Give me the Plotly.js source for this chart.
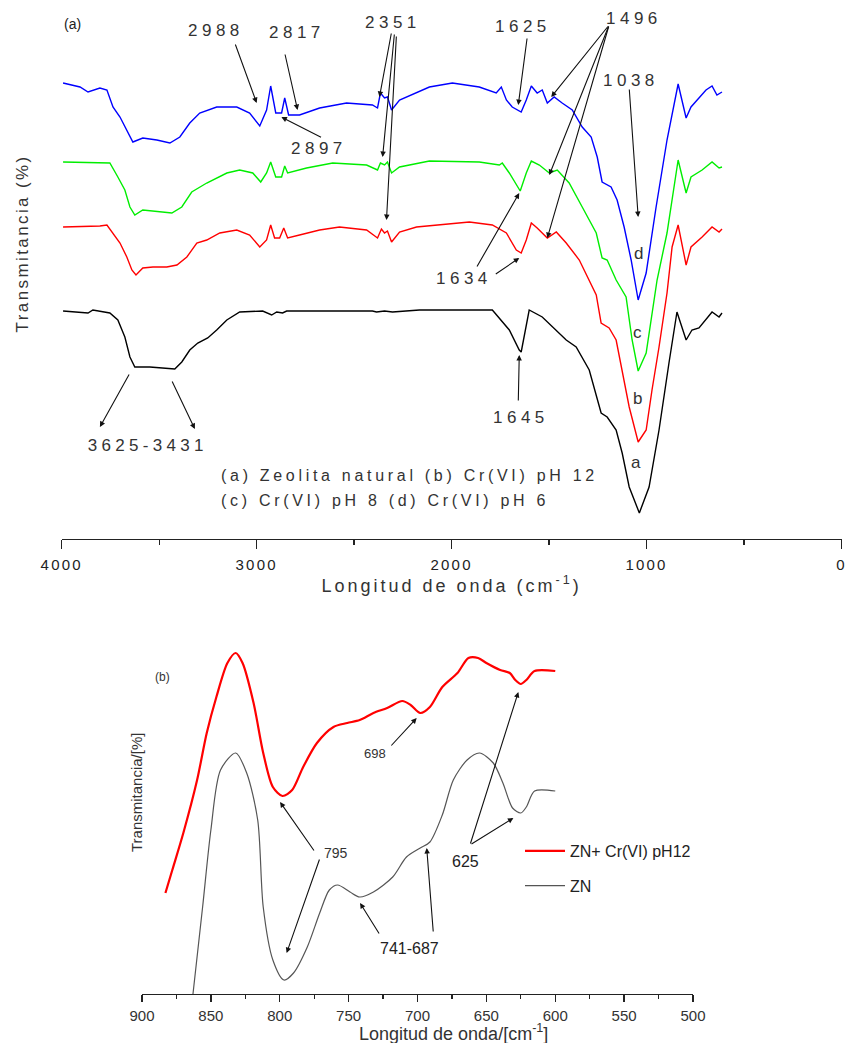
<!DOCTYPE html>
<html>
<head>
<meta charset="utf-8">
<script src="https://cdn.plot.ly/plotly-3.0.1.min.js"></script>
<style>
  html, body { margin: 0; padding: 0; background: #fff; }
  #chart { width: 846px; height: 1043px; }
  .subplot.xy .xtick text { letter-spacing: 2.2px; }
  .g-xtitle text { letter-spacing: 3px; }
</style>
</head>
<body>
<div id="chart"></div>
<script>
// ---------- Panel (a): FTIR spectra, wavenumber (cm-1) vs transmittance (offset, arbitrary units) ----------
const wnA = [3993,3891,3865,3840,3804,3753,3712,3676,3650,3625,3548,3461,3420,3384,3343,3302,3251,3205,3153,3087,2969,2923,2897,2867,2846,2406,2385,2344,2303,2165,1791,1704,1653,1643,1602,1535,1412,1361,1294,1233,1202,1156,1125,1089,1037,987,936,885,844,797,767,731,695,664,628,613];
const tA  = [228,227,226,229,228,226,219,202,182,172,172,171,170,177,189,196,201,209,219,227,228,224,227,226,228,228,227,228,227,229,229,209,189,187,229,222,199,192,169,126,122,109,86,52,26,52,109,176,227,199,209,211,219,227,222,226];

const wnB = [3993,3804,3768,3737,3701,3666,3640,3619,3584,3532,3461,3409,3358,3307,3256,3189,3102,3036,2984,2949,2928,2908,2882,2861,2841,2780,2677,2575,2436,2380,2360,2344,2329,2308,2267,2180,1909,1791,1719,1668,1643,1617,1591,1561,1509,1463,1412,1345,1294,1258,1233,1192,1156,1125,1089,1043,1002,972,936,895,869,838,797,772,715,664,628,613];
const tB  = [312,313,314,306,296,282,269,264,271,272,272,274,282,296,299,306,309,304,292,299,314,301,301,311,301,304,309,312,309,301,310,306,308,297,307,312,317,314,306,289,286,299,316,311,301,307,296,279,259,244,216,211,199,169,132,97,109,149,192,246,292,314,274,292,302,312,307,310];

const wnC = [3993,3840,3753,3712,3676,3650,3625,3584,3497,3435,3384,3333,3256,3153,3087,3020,2979,2949,2928,2902,2872,2856,2841,2744,2610,2436,2380,2365,2344,2329,2308,2267,2114,1858,1755,1740,1704,1648,1617,1591,1550,1499,1458,1397,1330,1258,1228,1202,1156,1105,1074,1043,1002,972,946,895,838,797,772,715,664,628,613];
const tC  = [377,376,376,362,349,332,324,329,327,326,332,347,356,366,369,366,357,366,377,362,362,373,366,371,376,374,369,376,374,377,366,372,378,377,374,376,366,348,366,378,374,366,369,356,332,306,281,279,259,242,199,168,186,226,259,306,379,346,362,369,377,371,372];

const wnD = [3993,3906,3865,3804,3768,3737,3701,3666,3635,3584,3512,3445,3394,3343,3292,3205,3102,3036,2984,2949,2928,2902,2872,2856,2836,2780,2677,2539,2406,2380,2365,2344,2329,2308,2267,2114,1996,1858,1771,1745,1719,1689,1643,1617,1591,1561,1535,1509,1474,1433,1381,1330,1284,1253,1228,1182,1151,1115,1079,1043,1002,951,895,838,797,772,731,695,664,639,613];
const tD  = [456,452,447,451,449,432,422,409,397,401,399,396,402,416,426,432,432,426,413,429,453,426,426,441,424,424,431,436,434,431,446,441,442,429,439,452,456,452,446,452,439,432,427,439,453,446,449,436,442,436,429,412,402,382,357,352,339,312,279,239,266,332,399,455,421,432,441,449,453,444,447];

const topTickVals  = [4000, 3000, 2000, 1000, 0];
const topTickText  = ['4000', '3000', '2000', '1000', '0'];
const topMinorVals = [3500, 2500, 1500, 500];

// ---------- Panel (b): 900-500 cm-1 region ----------
const wnZNCr = [883,878,870,860,853,846,838,832,827,819,812,805,798,791,783,773,761,751,742,732,722,711,705,698,691,682,671,663,656,650,640,633,629,625,621,615,600];
const tZNCr  = [101,124,161,214,261,297,331,341,331,291,241,207,198,204,227,251,267,271,274,281,286,293,289,281,287,307,321,336,336,331,324,321,314,310,314,323,323];

const wnZN = [863,856,850,843,832,824,816,812,805,797,790,780,771,764,758,749,742,732,718,708,698,691,682,674,664,655,645,638,631,625,621,615,600];
const tZN  = [0,87,164,224,241,221,174,87,34,14,21,47,81,104,109,102,97,102,117,137,146,152,179,214,234,241,231,211,186,181,187,203,203];

const botTickVals  = [900, 850, 800, 750, 700, 650, 600, 550, 500];
const botTickText  = ['900', '850', '800', '750', '700', '650', '600', '550', '500'];
const botMinorVals = [875, 825, 775, 725, 675, 625, 575, 525];

const seriesNames = ['ZN+ Cr(VI) pH12', 'ZN'];

// ---------- traces ----------
const FONT = 'Arial, "Liberation Sans", sans-serif';
const traces = [
  {x: wnA, y: tA, xaxis: 'x', yaxis: 'y', mode: 'lines', line: {color: '#000000', width: 1.4}, showlegend: false, name: 'a'},
  {x: wnB, y: tB, xaxis: 'x', yaxis: 'y', mode: 'lines', line: {color: '#ff0000', width: 1.4}, showlegend: false, name: 'b'},
  {x: wnC, y: tC, xaxis: 'x', yaxis: 'y', mode: 'lines', line: {color: '#00ee00', width: 1.4}, showlegend: false, name: 'c'},
  {x: wnD, y: tD, xaxis: 'x', yaxis: 'y', mode: 'lines', line: {color: '#0000ff', width: 1.4}, showlegend: false, name: 'd'},
  {x: wnZNCr, y: tZNCr, xaxis: 'x2', yaxis: 'y2', mode: 'lines', line: {color: '#ff0000', width: 2.2, shape: 'spline', smoothing: 0.8}, name: seriesNames[0], legendgroup: 'g1'},
  {x: wnZN, y: tZN, xaxis: 'x2', yaxis: 'y2', mode: 'lines', line: {color: '#555555', width: 1.2, shape: 'spline', smoothing: 0.8}, name: seriesNames[1], legendgroup: 'g2'}
];

// ---------- annotations ----------
const annotations = [];
const spacing = [];
function label(text, x, y, size, ls, xr, yr, opts) {
  annotations.push(Object.assign({
    text: text, x: x, y: y, xref: xr, yref: yr, showarrow: false,
    font: {family: FONT, size: size, color: '#333333'}, xanchor: 'center', yanchor: 'middle'
  }, opts || {}));
  spacing.push(ls);
}
function arrow(tx, ty, sx, sy, xr, yr) {
  annotations.push({
    text: '', x: tx, y: ty, xref: xr, yref: yr, ax: sx, ay: sy, axref: xr, ayref: yr,
    showarrow: true, arrowhead: 2, arrowsize: 1, arrowwidth: 1.1, arrowcolor: '#111111', standoff: 0, startstandoff: 0
  });
  spacing.push(0);
}

// panel (a) labels
label('(a)', 4000, 515, 14, 0, 'x', 'y', {xanchor: 'left', font: {family: FONT, size: 14, color: '#222'}});
label('2988', 3210, 509, 17, 4.5, 'x', 'y');
label('2817', 2795, 507, 17, 4.5, 'x', 'y');
label('2897', 2682, 391, 17, 4.5, 'x', 'y');
label('2351', 2303, 517, 17, 4.5, 'x', 'y');
label('1625', 1632, 513, 17, 4.5, 'x', 'y');
label('1496', 1064, 521, 17, 4.5, 'x', 'y');
label('1038', 1079, 459, 17, 4.5, 'x', 'y');
label('1634', 1934, 261, 17, 4.5, 'x', 'y');
label('1645', 1643, 122, 17, 4.5, 'x', 'y');
label('3625-3431', 3558, 94, 17, 4.3, 'x', 'y');
label('d', 1043, 286, 17, 0, 'x', 'y');
label('c', 1048, 207, 17, 0, 'x', 'y');
label('b', 1048, 141, 17, 0, 'x', 'y');
label('a', 1053, 77, 17, 0, 'x', 'y');
label('(a) Zeolita natural (b) Cr(VI) pH 12', 3194, 64, 16, 3.7, 'x', 'y', {xanchor: 'left', align: 'left'});
label('(c) Cr(VI) pH 8 (d) Cr(VI) pH 6', 3194, 39, 16, 3.7, 'x', 'y', {xanchor: 'left', align: 'left'});
label('Transmitancia (%)', 0.026, 0.767, 17, 2.4, 'paper', 'paper', {textangle: -90});

// panel (a) arrows
arrow(3000, 436, 3112, 496, 'x', 'y');
arrow(2790, 429, 2856, 486, 'x', 'y');
arrow(2873, 422, 2662, 401, 'x', 'y');
arrow(2370, 442, 2308, 507, 'x', 'y');
arrow(2354, 382, 2293, 506, 'x', 'y');
arrow(2334, 319, 2283, 504, 'x', 'y');
arrow(1658, 434, 1612, 502, 'x', 'y');
arrow(1489, 442, 1192, 514, 'x', 'y');
arrow(1499, 364, 1192, 514, 'x', 'y');
arrow(1509, 301, 1192, 514, 'x', 'y');
arrow(1043, 322, 1089, 451, 'x', 'y');
arrow(1653, 346, 1874, 271, 'x', 'y');
arrow(1653, 281, 1781, 264, 'x', 'y');
arrow(1653, 184, 1658, 137, 'x', 'y');
arrow(3804, 112, 3650, 166, 'x', 'y');
arrow(3317, 110, 3437, 159, 'x', 'y');

// panel (b) labels
label('(b)', 885, 317, 12, 0, 'x2', 'y2');
label('698', 731, 241, 13, 0, 'x2', 'y2');
label('795', 759, 141, 14, 0, 'x2', 'y2');
label('625', 665, 133, 16, 0, 'x2', 'y2', {font: {family: FONT, size: 16, color: '#222'}});
label('741-687', 706, 46, 16, 0, 'x2', 'y2', {font: {family: FONT, size: 16, color: '#222'}});
label('Transmitancia/[%]', 0.162, 0.2397, 15, 0, 'paper', 'paper', {textangle: -90});
label('Longitud de onda/[cm<sup>-1</sup>]', 0.5366, 0.0105, 18, 0, 'paper', 'paper');

// panel (b) arrows
arrow(700.6, 276, 720, 247, 'x2', 'y2');
arrow(799.8, 192, 774.4, 142, 'x2', 'y2');
arrow(795, 41, 770.8, 136, 'x2', 'y2');
arrow(626.8, 302, 661.9, 149, 'x2', 'y2');
arrow(630.4, 176, 661.9, 149, 'x2', 'y2');
arrow(741.7, 91, 727.2, 59, 'x2', 'y2');
arrow(693.3, 146, 688.5, 61, 'x2', 'y2');

// ---------- layout ----------
const W = 846, H = 1043;
const layout = {
  width: W, height: H,
  margin: {l: 0, r: 0, t: 0, b: 0},
  paper_bgcolor: '#ffffff', plot_bgcolor: 'rgba(0,0,0,0)',
  font: {family: FONT, color: '#333333'},
  xaxis: {
    domain: [61.7 / W, 841.5 / W], range: [4000, 0], anchor: 'y',
    showgrid: false, zeroline: false, showline: true, linecolor: '#222', linewidth: 1.3,
    ticks: 'outside', ticklen: 9, tickwidth: 1.3, tickcolor: '#222',
    tickmode: 'array', tickvals: topTickVals, ticktext: topTickText,
    tickfont: {family: FONT, size: 15, color: '#222'}, ticklabelstandoff: 3,
    ticklabeloverflow: 'allow',
    minor: {tickmode: 'array', tickvals: topMinorVals, ticks: 'outside', ticklen: 5, tickwidth: 1.3, tickcolor: '#222', showgrid: false},
    title: {text: 'Longitud de onda (cm<sup>-1</sup>)', font: {family: FONT, size: 18, color: '#333'}, standoff: 6},
    automargin: false
  },
  yaxis: {domain: [1 - 539 / H, 1], range: [0, 539], visible: false, anchor: 'x'},
  xaxis2: {
    domain: [142 / W, 693 / W], range: [900, 500], anchor: 'y2',
    showgrid: false, zeroline: false, showline: true, linecolor: '#222', linewidth: 1.3,
    ticks: 'outside', ticklen: 7, tickwidth: 1.3, tickcolor: '#222',
    tickmode: 'array', tickvals: botTickVals, ticktext: botTickText,
    tickfont: {family: FONT, size: 15, color: '#333'}, ticklabelstandoff: 1,
    ticklabeloverflow: 'allow',
    minor: {tickmode: 'array', tickvals: botMinorVals, ticks: 'outside', ticklen: 4, tickwidth: 1.3, tickcolor: '#222', showgrid: false},
    automargin: false
  },
  yaxis2: {domain: [1 - 994 / H, 1 - 620 / H], range: [0, 374], visible: false, anchor: 'x2'},
  showlegend: true,
  legend: {
    x: 520 / W, y: 1 - 834 / H, xanchor: 'left', yanchor: 'top',
    font: {family: FONT, size: 16, color: '#222'}, bgcolor: 'rgba(0,0,0,0)',
    tracegroupgap: 11, itemwidth: 40, traceorder: 'grouped'
  },
  annotations: annotations
};

Plotly.newPlot('chart', traces, layout, {displayModeBar: false, staticPlot: true}).then(function () {
  document.querySelectorAll('.annotation').forEach(function (g) {
    const i = +g.getAttribute('data-index');
    const t = g.querySelector('text');
    if (t && spacing[i]) t.style.letterSpacing = spacing[i] + 'px';
  });
});
</script>
</body>
</html>
